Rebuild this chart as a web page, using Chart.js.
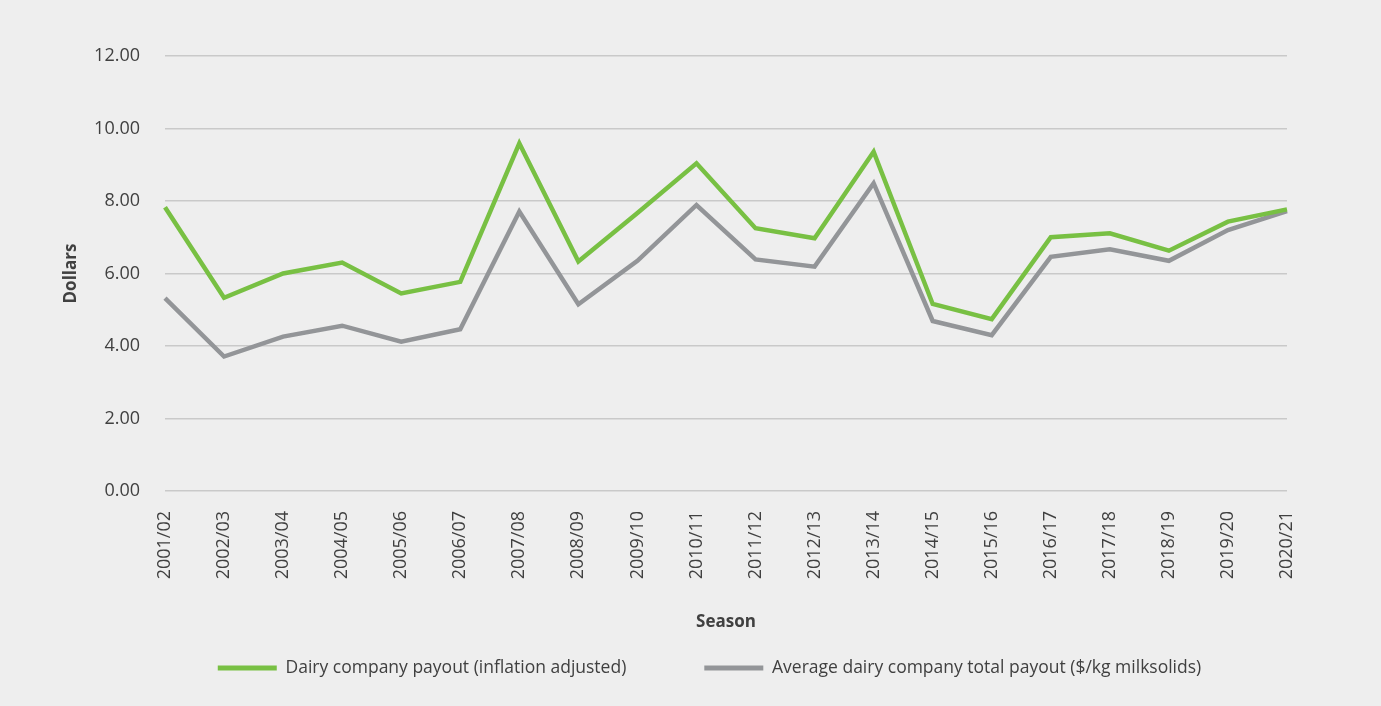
<!DOCTYPE html>
<html>
<head>
<meta charset="utf-8">
<script src="https://cdn.jsdelivr.net/npm/chart.js@4/dist/chart.umd.min.js"></script>
<style>
  html, body { margin: 0; padding: 0; background: #eeeeee; }
  #wrap { width: 1381px; height: 706px; }
</style>
</head>
<body>
<div id="wrap"><canvas id="payoutChart"></canvas></div>
<script>
// seasons along the x axis
const seasons = [
  '2001/02', '2002/03', '2003/04', '2004/05', '2005/06', '2006/07', '2007/08',
  '2008/09', '2009/10', '2010/11', '2011/12', '2012/13', '2013/14', '2014/15',
  '2015/16', '2016/17', '2017/18', '2018/19', '2019/20', '2020/21'
];
// dollars
const inflationAdjusted = [7.83, 5.33, 6.00, 6.30, 5.45, 5.77, 9.59, 6.33, 7.67, 9.04,
  7.25, 6.97, 9.36, 5.16, 4.74, 7.00, 7.11, 6.63, 7.43, 7.77];
const averagePayout = [5.32, 3.71, 4.26, 4.56, 4.12, 4.46, 7.71, 5.15, 6.35, 7.89,
  6.39, 6.19, 8.49, 4.69, 4.30, 6.46, 6.67, 6.35, 7.20, 7.72];
const seriesNames = [
  'Dairy company payout (inflation adjusted)',
  'Average dairy company total payout ($/kg milksolids)'
];
const yTicks = { min: 0, max: 12, step: 2 };

const textColor = '#404040';
const fontFamily = '"Open Sans", "Noto Sans", sans-serif';

// nudge the legend a bit to the right so it sits under the plot like the original
const legendShift = {
  id: 'legendShift',
  afterLayout(chart) {
    const lg = chart.legend;
    if (!lg) return;
    lg.left += 66;
    lg.right += 66;
  }
};

document.addEventListener('DOMContentLoaded', () => {
  const ctx = document.getElementById('payoutChart').getContext('2d');

  new Chart(ctx, {
    type: 'line',
    data: {
      labels: seasons,
      datasets: [
        {
          label: seriesNames[0],
          data: inflationAdjusted,
          borderColor: '#78c043',
          backgroundColor: '#78c043',
          borderWidth: 4.5,
          pointRadius: 0,
          tension: 0
        },
        {
          label: seriesNames[1],
          data: averagePayout,
          borderColor: '#939598',
          backgroundColor: '#939598',
          borderWidth: 4.5,
          pointRadius: 0,
          tension: 0
        }
      ]
    },
    plugins: [legendShift],
    options: {
      responsive: true,
      maintainAspectRatio: false,
      animation: false,
      layout: {
        padding: { top: 56, left: 0, right: 94, bottom: 19.25 }
      },
      plugins: {
        tooltip: { enabled: false },
        legend: {
          position: 'bottom',
          labels: {
            color: textColor,
            font: { family: fontFamily, size: 17.5 },
            boxWidth: 59,
            boxHeight: 5,
            padding: 78,
            generateLabels: (chart) =>
              Chart.defaults.plugins.legend.labels.generateLabels(chart)
                .map(item => ({ ...item, lineWidth: 0 }))
          }
        }
      },
      scales: {
        x: {
          offset: false,
          grid: { display: false, drawTicks: false },
          border: { display: false },
          ticks: {
            color: textColor,
            font: { family: fontFamily, size: 18 },
            minRotation: 90,
            maxRotation: 90,
            autoSkip: false,
            padding: 20
          },
          title: {
            display: true,
            text: 'Season',
            color: textColor,
            font: { family: fontFamily, size: 17, weight: 'bold' },
            padding: { top: 0, bottom: -50.95 }
          },
          afterFit: (scale) => { scale.height = 90.25; }
        },
        y: {
          min: yTicks.min,
          max: yTicks.max,
          grid: { color: '#c9c9c9', lineWidth: 1.5, drawTicks: false },
          border: { display: false },
          ticks: {
            stepSize: yTicks.step,
            color: textColor,
            font: { family: fontFamily, size: 18 },
            padding: 25,
            callback: (v) => Number(v).toFixed(2)
          },
          title: {
            display: true,
            text: 'Dollars',
            color: textColor,
            font: { family: fontFamily, size: 17, weight: 'bold' },
            padding: { top: 60.8, bottom: 0 }
          },
          afterFit: (scale) => { scale.width = 165; }
        }
      }
    }
  });
});
</script>
</body>
</html>
